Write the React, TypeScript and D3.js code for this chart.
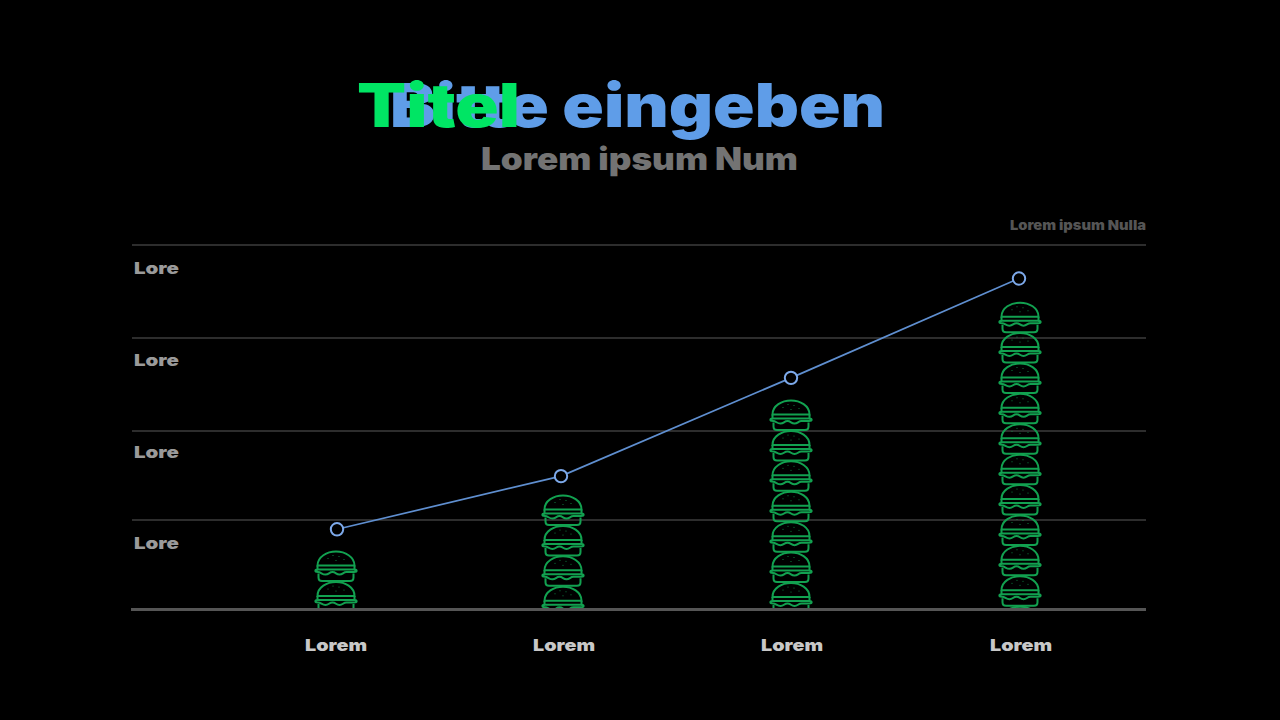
import React, { useEffect, useRef } from "react";
import * as d3 from "d3";

const categories = ["Lorem", "Lorem", "Lorem", "Lorem"];
const categoryCenters = [336, 563, 791, 1020];
const lineValues = [21.9, 36.5, 63.5, 90.8];
const burgerValues = [15.9, 31.3, 57.4, 84.3];
const gridValues = [24.45, 48.9, 74.45, 100];
const bandLabels = ["Lore", "Lore", "Lore", "Lore"];
const bandLabelValues = [93.7, 68.4, 43.1, 18.1];

const width = 1280;
const height = 720;
const baseline = 609;
const burgerPitch = 30.4;
const font = "Inter, sans-serif";
const green = "#12a150";

const drawBurger = (g: d3.Selection<SVGGElement, unknown, null, undefined>) => {
  g.append("path").attr("d", "M-18.5,14 C-18.5,5 -9,0 0,0 C9,0 18.5,5 18.5,14 Z");
  g.append("path").attr("d", "M-18.5,14 L-18.5,18 L18.5,18 L18.5,14");
  g.append("path").attr(
    "d",
    "M-18,18 C-21.5,18 -21.5,20.5 -18,20.5 C-15,20.5 -14,23 -10.5,23 C-7,23 -7,20.5 -3.5,20.5 C0,20.5 0,23 3.5,23 C7,23 7,20.5 10.5,20.5 C14,20.5 15,20.5 18,20.5 C21.5,20.5 21.5,18 18,18"
  );
  g.append("path").attr("d", "M-17.5,22 L-17.5,26 Q-17.5,29.5 -14,29.5 L14,29.5 Q17.5,29.5 17.5,26 L17.5,22");
  const sprinkles = [[-8, 7], [-3, 4], [3, 5], [8, 8], [0, 9]];
  g.selectAll("circle.seed")
    .data(sprinkles)
    .enter()
    .append("circle")
    .attr("class", "seed")
    .attr("cx", (d) => d[0])
    .attr("cy", (d) => d[1])
    .attr("r", 0.5)
    .attr("fill", green)
    .attr("stroke", "none");
};

export default function App() {
  const ref = useRef<SVGSVGElement>(null);

  useEffect(() => {
    const svg = d3.select(ref.current);
    svg.selectAll("*").remove();

    svg.append("rect").attr("width", width).attr("height", height).attr("fill", "#000");

    const y = d3.scaleLinear().domain([0, 100]).range([baseline, 245]);
    const xAt = d3.scaleOrdinal<number, number>().domain(d3.range(categories.length)).range(categoryCenters);

    // Wide heavy labels: Inter stretched to the measured text width
    const label = (
      parent: any,
      text: string,
      px: number,
      py: number,
      len: number,
      size: number,
      fill: string,
      anchor = "middle"
    ) =>
      parent
        .append("text")
        .attr("x", px)
        .attr("y", py)
        .attr("text-anchor", anchor)
        .attr("font-family", font)
        .attr("font-weight", 900)
        .attr("font-size", size)
        .attr("fill", fill)
        .attr("textLength", len)
        .attr("lengthAdjust", "spacingAndGlyphs")
        .text(text);

    // Titles
    label(svg, "Bitte eingeben", 637.5, 127, 495, 60, "#5f9de8");
    label(svg, "Titel", 438.5, 127, 163, 60, "#00e564");
    label(svg, "Lorem ipsum Num", 639.5, 170, 317, 31, "#737373");
    label(svg, "Lorem ipsum Nulla", 1146, 230, 136, 13.5, "#555", "end");

    // Grid
    svg
      .append("g")
      .selectAll("line")
      .data(gridValues)
      .enter()
      .append("line")
      .attr("x1", 132)
      .attr("x2", 1146)
      .attr("y1", (d) => y(d))
      .attr("y2", (d) => y(d))
      .attr("stroke", "#3c3c3c")
      .attr("stroke-width", 1.5);

    const bandGroup = svg.append("g");
    bandLabelValues.forEach((v, i) => {
      label(bandGroup, bandLabels[i], 134, y(v) + 6, 45, 16.5, "#9a9a9a", "start");
    });

    // Burger stacks, cut off at the baseline
    svg
      .append("clipPath")
      .attr("id", "plot-clip")
      .append("rect")
      .attr("x", 131)
      .attr("y", 240)
      .attr("width", 1015)
      .attr("height", baseline - 240 - 1);

    const stacks = svg.append("g").attr("clip-path", "url(#plot-clip)");
    burgerValues.forEach((v, i) => {
      const top = y(v);
      const count = Math.ceil((baseline - top) / burgerPitch);
      d3.range(count).forEach((k) => {
        const g = stacks
          .append("g")
          .attr("transform", `translate(${xAt(i)},${top + k * burgerPitch + 0.5})`)
          .attr("fill", "none")
          .attr("stroke", green)
          .attr("stroke-width", 2);
        drawBurger(g as any);
      });
    });

    svg
      .append("line")
      .attr("x1", 131)
      .attr("x2", 1146)
      .attr("y1", baseline + 0.5)
      .attr("y2", baseline + 0.5)
      .attr("stroke", "#555")
      .attr("stroke-width", 3);

    // Line with markers
    const linePts: [number, number][] = lineValues.map((v, i) => [
      xAt(i) + (i === 0 ? 1 : i === 1 ? -2 : i === 3 ? -1 : 0),
      y(v),
    ]);
    svg
      .append("path")
      .attr("d", d3.line()(linePts))
      .attr("fill", "none")
      .attr("stroke", "#5f8fd0")
      .attr("stroke-width", 1.7);

    svg
      .append("g")
      .selectAll("circle")
      .data(linePts)
      .enter()
      .append("circle")
      .attr("cx", (d) => d[0])
      .attr("cy", (d) => d[1])
      .attr("r", 6.2)
      .attr("fill", "#000")
      .attr("stroke", "#7da9ea")
      .attr("stroke-width", 2);

    // Category labels
    const catGroup = svg.append("g");
    categories.forEach((c, i) => {
      label(catGroup, c, xAt(i) + (i === 0 ? 0 : 1), 651, 62, 16.5, "#c8c8c8");
    });
  }, []);

  return (
    <svg
      ref={ref}
      width={width}
      height={height}
      style={{ position: "absolute", left: 0, top: 0, display: "block" }}
    />
  );
}
